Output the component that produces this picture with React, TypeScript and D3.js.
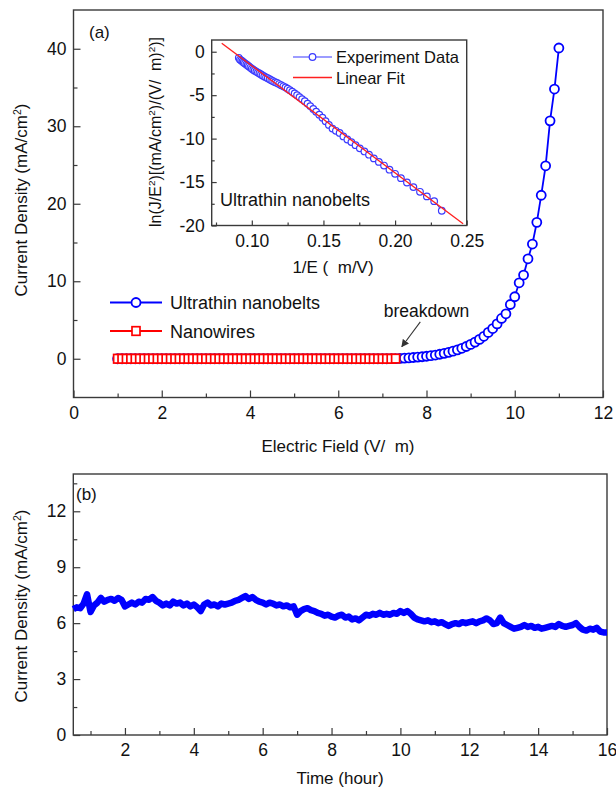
import React, { useEffect, useRef } from "react";
import * as d3 from "d3";

// ---- panel (a): current density vs electric field ----
const nanobeltField = [
  1.0, 1.1, 1.2, 1.3, 1.4, 1.5, 1.6, 1.7, 1.8, 1.9,
  2.0, 2.1, 2.2, 2.3, 2.4, 2.5, 2.6, 2.7, 2.8, 2.9,
  3.0, 3.1, 3.2, 3.3, 3.4, 3.5, 3.6, 3.7, 3.8, 3.9,
  4.0, 4.1, 4.2, 4.3, 4.4, 4.5, 4.6, 4.7, 4.8, 4.9,
  5.0, 5.1, 5.2, 5.3, 5.4, 5.5, 5.6, 5.7, 5.8, 5.9,
  6.0, 6.1, 6.2, 6.3, 6.4, 6.5, 6.6, 6.7, 6.8, 6.9,
  7.0, 7.1, 7.2, 7.3, 7.4, 7.5, 7.6, 7.7, 7.8, 7.9,
  8.0, 8.1, 8.2, 8.3, 8.4, 8.5, 8.6, 8.7, 8.8, 8.9,
  9.0, 9.1, 9.2, 9.3, 9.4, 9.5, 9.6, 9.7, 9.8, 9.9,
  10.0, 10.1, 10.2, 10.3, 10.4, 10.5, 10.6, 10.7, 10.8, 10.9,
  11.0,
];
const nanobeltDensity = [
  0, 0, 0, 0, 0, 0, 0, 0, 0, 0,
  0, 0, 0, 0, 0, 0, 0, 0, 0, 0,
  0, 0, 0, 0, 0, 0, 0, 0, 0, 0,
  0, 0, 0, 0, 0, 0, 0, 0, 0, 0,
  0, 0, 0, 0, 0, 0, 0, 0, 0, 0,
  0, 0, 0, 0, 0, 0, 0, 0, 0, 0,
  0, 0, 0.01, 0.02, 0.05, 0.08, 0.12, 0.16, 0.21, 0.26,
  0.32, 0.4, 0.48, 0.58, 0.7, 0.83, 0.98, 1.15, 1.35, 1.58,
  1.85, 2.15, 2.5, 2.9, 3.4, 3.9, 4.5, 5.2, 5.8, 7.0,
  8.0, 9.8, 10.8, 12.9, 14.8, 17.6, 21.1, 24.9, 30.7, 34.8,
  40.1,
];
const nanowireField = [
  1.0, 1.1, 1.2, 1.3, 1.4, 1.5, 1.6, 1.7, 1.8, 1.9,
  2.0, 2.1, 2.2, 2.3, 2.4, 2.5, 2.6, 2.7, 2.8, 2.9,
  3.0, 3.1, 3.2, 3.3, 3.4, 3.5, 3.6, 3.7, 3.8, 3.9,
  4.0, 4.1, 4.2, 4.3, 4.4, 4.5, 4.6, 4.7, 4.8, 4.9,
  5.0, 5.1, 5.2, 5.3, 5.4, 5.5, 5.6, 5.7, 5.8, 5.9,
  6.0, 6.1, 6.2, 6.3, 6.4, 6.5, 6.6, 6.7, 6.8, 6.9,
  7.0, 7.1, 7.2, 7.3,
];
const nanowireDensity = [
  0, 0, 0, 0, 0, 0, 0, 0, 0, 0,
  0, 0, 0, 0, 0, 0, 0, 0, 0, 0,
  0, 0, 0, 0, 0, 0, 0, 0, 0, 0,
  0, 0, 0, 0, 0, 0, 0, 0, 0, 0,
  0, 0, 0, 0, 0, 0, 0, 0, 0, 0,
  0, 0, 0, 0, 0, 0, 0, 0, 0, 0,
  0, 0, 0, 0.02,
];
const fieldMajor = [0, 2, 4, 6, 8, 10, 12];
const fieldMinor = [1, 3, 5, 7, 9, 11];
const densityMajor = [0, 10, 20, 30, 40];
const densityMinor = [5, 15, 25, 35];
// breakdown arrow, data coords
const breakdownText = { field: 8.0, density: 6.2 };
const breakdownArrow = { fromField: 7.86, fromDensity: 4.75, toField: 7.44, toDensity: 1.55 };

// ---- inset: Fowler-Nordheim plot ----
const inverseField = [
  0.0909, 0.0917, 0.0926, 0.0935, 0.0943, 0.0952, 0.0962, 0.0971, 0.098, 0.099,
  0.1, 0.101, 0.102, 0.1031, 0.1042, 0.1053, 0.1064, 0.1075, 0.1087, 0.1099,
  0.1111, 0.1124, 0.1136, 0.1149, 0.1163, 0.1176, 0.119, 0.1205, 0.122, 0.1235,
  0.125, 0.1266, 0.1282, 0.1299, 0.1316, 0.1333, 0.1351, 0.137, 0.1389, 0.1408,
  0.1429, 0.1449, 0.1471, 0.1493, 0.1515, 0.1538, 0.1563, 0.1587, 0.1613, 0.1639,
  0.1667, 0.1695, 0.1724, 0.1754, 0.1786, 0.1818, 0.1852, 0.1887, 0.1923, 0.1961,
  0.2, 0.2041, 0.2083, 0.2128, 0.2174, 0.2222, 0.2273, 0.2326,
];
const fnValues = [
  -0.7, -0.9, -1.0, -1.12, -1.23, -1.35, -1.46, -1.58, -1.7, -1.82,
  -1.95, -2.06, -2.18, -2.3, -2.4, -2.5, -2.62, -2.73, -2.85, -2.95,
  -3.05, -3.17, -3.28, -3.4, -3.5, -3.6, -3.72, -3.85, -3.98, -4.1,
  -4.25, -4.42, -4.6, -4.8, -5.0, -5.22, -5.45, -5.7, -5.97, -6.26,
  -6.58, -6.9, -7.25, -7.6, -8.0, -8.42, -8.85, -9.1, -9.35, -9.75,
  -10.1, -10.4, -10.75, -11.12, -11.48, -11.85, -12.28, -12.68, -13.1, -13.58,
  -14.05, -14.55, -15.05, -15.58, -16.12, -16.65, -17.2, -18.3,
];
const fitInverseField = [0.079, 0.2475];
const fitValues = [0.97, -19.8];
const invMajor = [0.1, 0.15, 0.2, 0.25];
const invMinor = [0.075, 0.125, 0.175, 0.225];
const fnMajor = [-20, -15, -10, -5, 0];
const fnMinor = [-17.5, -12.5, -7.5, -2.5];

// ---- panel (b): stability over time ----
const stabilityTime = [
  0.5, 0.6, 0.7, 0.8, 0.9, 1.0, 1.1, 1.2, 1.3, 1.4,
  1.5, 1.6, 1.7, 1.8, 1.9, 2.0, 2.1, 2.2, 2.3, 2.4,
  2.5, 2.6, 2.7, 2.8, 2.9, 3.0, 3.1, 3.2, 3.3, 3.4,
  3.5, 3.6, 3.7, 3.8, 3.9, 4.0, 4.1, 4.2, 4.3, 4.4,
  4.5, 4.6, 4.7, 4.8, 4.9, 5.0, 5.1, 5.2, 5.3, 5.4,
  5.5, 5.6, 5.7, 5.8, 5.9, 6.0, 6.1, 6.2, 6.3, 6.4,
  6.5, 6.6, 6.7, 6.8, 6.9, 7.0, 7.1, 7.2, 7.3, 7.4,
  7.5, 7.6, 7.7, 7.8, 7.9, 8.0, 8.1, 8.2, 8.3, 8.4,
  8.5, 8.6, 8.7, 8.8, 8.9, 9.0, 9.1, 9.2, 9.3, 9.4,
  9.5, 9.6, 9.7, 9.8, 9.9, 10.0, 10.1, 10.2, 10.3, 10.4,
  10.5, 10.6, 10.7, 10.8, 10.9, 11.0, 11.1, 11.2, 11.3, 11.4,
  11.5, 11.6, 11.7, 11.8, 11.9, 12.0, 12.1, 12.2, 12.3, 12.4,
  12.5, 12.6, 12.7, 12.8, 12.9, 13.0, 13.1, 13.2, 13.3, 13.4,
  13.5, 13.6, 13.7, 13.8, 13.9, 14.0, 14.1, 14.2, 14.3, 14.4,
  14.5, 14.6, 14.7, 14.8, 14.9, 15.0, 15.1, 15.2, 15.3, 15.4,
  15.5, 15.6, 15.7, 15.8, 15.9, 16.0,
];
const stabilityDensity = [
  6.75, 6.85, 6.8, 7.05, 7.55, 6.6, 6.95, 7.1, 7.35, 7.15,
  7.25, 7.3, 7.2, 7.35, 7.25, 6.9, 7.0, 7.1, 7.0, 7.15,
  7.1, 7.3, 7.25, 7.4, 7.2, 7.1, 6.95, 7.05, 6.95, 7.15,
  7.05, 7.1, 6.95, 7.05, 6.9, 7.0, 6.85, 6.65, 7.0, 7.1,
  6.95, 7.0, 6.9, 7.05, 7.0, 7.05, 7.1, 7.2, 7.25, 7.35,
  7.45, 7.3, 7.4, 7.25, 7.15, 7.1, 7.0, 7.1, 7.05, 6.95,
  7.0, 6.9, 6.95, 6.85, 6.9, 6.45, 6.65, 6.75, 6.8, 6.7,
  6.65, 6.55, 6.5, 6.4, 6.45, 6.35, 6.3, 6.4, 6.45, 6.3,
  6.35, 6.2, 6.25, 6.15, 6.3, 6.45, 6.4, 6.5, 6.45, 6.55,
  6.45, 6.5, 6.45, 6.55, 6.5, 6.65, 6.55, 6.65, 6.5, 6.3,
  6.2, 6.15, 6.1, 6.15, 6.05, 6.1, 6.0, 6.05, 5.95, 5.85,
  5.95, 6.0, 5.95, 6.05, 6.0, 6.05, 6.1, 6.0, 6.1, 6.15,
  6.25, 6.15, 5.95, 6.0, 6.3, 6.0, 5.9, 5.8, 5.7, 5.75,
  5.8, 5.9, 5.8, 5.85, 5.75, 5.8, 5.7, 5.75, 5.8, 5.85,
  5.8, 5.95, 5.85, 5.8, 5.85, 5.9, 6.0, 5.8, 5.65, 5.6,
  5.7, 5.65, 5.75, 5.55, 5.5, 5.5,
];
const timeMajor = [2, 4, 6, 8, 10, 12, 14, 16];
const timeMinor = [1, 3, 5, 7, 9, 11, 13, 15];
const stabMajor = [0, 3, 6, 9, 12];
const stabMinor = [1.5, 4.5, 7.5, 10.5, 13.5];

const FONT = "'Liberation Sans', Arial, Helvetica, sans-serif";
const INK = "#3a3a3a";

// frame + inward ticks on left and bottom
function drawFrame(g, x, y, o) {
  const [x0, x1] = x.range();
  const [y0, y1] = y.range();
  g.append("rect")
    .attr("x", x0).attr("y", y1)
    .attr("width", x1 - x0).attr("height", y0 - y1)
    .attr("fill", o.fill || "none")
    .attr("stroke", INK).attr("stroke-width", 1.4);

  const tidy = (sel) => {
    sel.select(".domain").remove();
    sel.selectAll("line").attr("stroke", INK).attr("stroke-width", 1.2);
    sel.selectAll("text").attr("fill", "#111").attr("font-size", o.fontSize).attr("font-family", FONT);
  };
  g.append("g").attr("transform", `translate(0,${y0})`)
    .call(d3.axisBottom(x).tickValues(o.xMajor).tickSize(-o.major).tickPadding(o.xPad).tickFormat(o.xFormat))
    .call(tidy);
  g.append("g").attr("transform", `translate(0,${y0})`)
    .call(d3.axisBottom(x).tickValues(o.xMinor).tickSize(-o.minor).tickFormat(() => ""))
    .call(tidy);
  g.append("g").attr("transform", `translate(${x0},0)`)
    .call(d3.axisLeft(y).tickValues(o.yMajor).tickSize(-o.major).tickPadding(o.yPad).tickFormat(o.yFormat))
    .call(tidy);
  g.append("g").attr("transform", `translate(${x0},0)`)
    .call(d3.axisLeft(y).tickValues(o.yMinor).tickSize(-o.minor).tickFormat(() => ""))
    .call(tidy);
}

// rotated title with superscripts: parts = [text, sup, text, ...]
function rotatedTitle(g, cx, cy, parts, size) {
  const t = g.append("text")
    .attr("transform", `translate(${cx},${cy}) rotate(-90)`)
    .attr("text-anchor", "middle")
    .attr("font-family", FONT)
    .attr("font-size", size)
    .attr("fill", "#111")
    .style("white-space", "pre");
  parts.forEach((p, i) => {
    if (i % 2 === 0) t.append("tspan").attr("dy", i === 0 ? 0 : size * 0.38).text(p);
    else t.append("tspan").attr("dy", -size * 0.38).attr("font-size", size * 0.62).text(p);
  });
}

const App = () => {
  const ref = useRef(null);

  useEffect(() => {
    const svg = d3.select(ref.current);
    svg.selectAll("*").remove();

    svg.append("defs").append("marker")
      .attr("id", "arrowHead")
      .attr("viewBox", "0 0 10 10")
      .attr("refX", 9).attr("refY", 5)
      .attr("markerWidth", 7).attr("markerHeight", 7)
      .attr("orient", "auto")
      .append("path").attr("d", "M0,0 L10,5 L0,10 z").attr("fill", "#333");

    const plain = (d) => String(d);

    // ===== panel (a) =====
    const gA = svg.append("g");
    const x = d3.scaleLinear().domain([0, 12]).range([73.5, 603]);
    const y = d3.scaleLinear().domain([-5, 45]).range([397.5, 10]);
    drawFrame(gA, x, y, {
      xMajor: fieldMajor, xMinor: fieldMinor, yMajor: densityMajor, yMinor: densityMinor,
      major: 7, minor: 4, xPad: 9, yPad: 7, fontSize: 17.5, xFormat: plain, yFormat: plain,
    });

    const belts = nanobeltField.map((e, i) => ({ x: e, y: nanobeltDensity[i] }));
    const wires = nanowireField.map((e, i) => ({ x: e, y: nanowireDensity[i] }));
    const line = d3.line().x((d) => x(d.x)).y((d) => y(d.y));

    gA.append("path").attr("d", line(belts)).attr("fill", "none").attr("stroke", "#0000ff").attr("stroke-width", 1.8);
    gA.selectAll("circle.belt").data(belts).enter().append("circle")
      .attr("class", "belt")
      .attr("cx", (d) => x(d.x)).attr("cy", (d) => y(d.y)).attr("r", 4.5)
      .attr("fill", "#fff").attr("stroke", "#0000ff").attr("stroke-width", 1.8);

    gA.append("path").attr("d", line(wires)).attr("fill", "none").attr("stroke", "#ff0000").attr("stroke-width", 1.5);
    gA.selectAll("rect.wire").data(wires).enter().append("rect")
      .attr("class", "wire")
      .attr("x", (d) => x(d.x) - 4).attr("y", (d) => y(d.y) - 4.3)
      .attr("width", 8).attr("height", 8.6)
      .attr("fill", "#fff").attr("stroke", "#ff0000").attr("stroke-width", 1.7);

    // legend (a)
    const legA = gA.append("g").attr("font-family", FONT).attr("font-size", 18).attr("fill", "#111");
    [
      { label: "Ultrathin nanobelts", color: "#0000ff", shape: "circle", yy: 302.5 },
      { label: "Nanowires", color: "#ff0000", shape: "square", yy: 331 },
    ].forEach((it) => {
      legA.append("line").attr("x1", 110).attr("x2", 162).attr("y1", it.yy).attr("y2", it.yy)
        .attr("stroke", it.color).attr("stroke-width", 2);
      if (it.shape === "circle") {
        legA.append("circle").attr("cx", 136).attr("cy", it.yy).attr("r", 4.5)
          .attr("fill", "#fff").attr("stroke", it.color).attr("stroke-width", 1.8);
      } else {
        legA.append("rect").attr("x", 132).attr("y", it.yy - 4.3).attr("width", 8).attr("height", 8.6)
          .attr("fill", "#fff").attr("stroke", it.color).attr("stroke-width", 1.7);
      }
      legA.append("text").attr("x", 170).attr("y", it.yy + 6.5).text(it.label);
    });

    // breakdown annotation
    gA.append("text")
      .attr("x", x(breakdownText.field)).attr("y", y(breakdownText.density) + 6)
      .attr("text-anchor", "middle").attr("font-family", FONT).attr("font-size", 17.5).attr("fill", "#111")
      .text("breakdown");
    gA.append("line")
      .attr("x1", x(breakdownArrow.fromField)).attr("y1", y(breakdownArrow.fromDensity))
      .attr("x2", x(breakdownArrow.toField)).attr("y2", y(breakdownArrow.toDensity))
      .attr("stroke", "#333").attr("stroke-width", 1.1).attr("marker-end", "url(#arrowHead)");

    gA.append("text").attr("x", 89).attr("y", 38).attr("font-family", FONT).attr("font-size", 17).attr("fill", "#111").text("(a)");
    gA.append("text").attr("x", 338).attr("y", 452).attr("text-anchor", "middle").style("white-space", "pre")
      .attr("font-family", FONT).attr("font-size", 17).attr("fill", "#111").text("Electric Field (V/  m)");
    rotatedTitle(gA, 27, 200, ["Current Density (mA/cm", "2", ")"], 17);

    // ===== inset =====
    const gI = svg.append("g");
    const xi = d3.scaleLinear().domain([0.072, 0.25]).range([211.7, 466.7]);
    const yi = d3.scaleLinear().domain([-20, 1.35]).range([225.5, 40]);
    drawFrame(gI, xi, yi, {
      fill: "#fff",
      xMajor: invMajor, xMinor: invMinor, yMajor: fnMajor, yMinor: fnMinor,
      major: 5, minor: 3, xPad: 9, yPad: 7, fontSize: 17.5, xFormat: d3.format(".2f"), yFormat: plain,
    });
    const fn = inverseField.map((v, i) => ({ x: v, y: fnValues[i] }));
    const fit = fitInverseField.map((v, i) => ({ x: v, y: fitValues[i] }));
    const lineI = d3.line().x((d) => xi(d.x)).y((d) => yi(d.y));
    gI.append("path").attr("d", lineI(fn)).attr("fill", "none").attr("stroke", "#3a3aff").attr("stroke-width", 1);
    gI.selectAll("circle.fn").data(fn).enter().append("circle")
      .attr("class", "fn")
      .attr("cx", (d) => xi(d.x)).attr("cy", (d) => yi(d.y)).attr("r", 3.3)
      .attr("fill", "#fff").attr("stroke", "#3a3aff").attr("stroke-width", 1.2);
    gI.append("path").attr("d", lineI(fit)).attr("fill", "none").attr("stroke", "#ff2020").attr("stroke-width", 1.3);

    const legI = gI.append("g").attr("font-family", FONT).attr("font-size", 16.5).attr("fill", "#111");
    legI.append("line").attr("x1", 293).attr("x2", 332).attr("y1", 57).attr("y2", 57).attr("stroke", "#3a3aff").attr("stroke-width", 1.2);
    legI.append("circle").attr("cx", 312.5).attr("cy", 57).attr("r", 3.3).attr("fill", "#fff").attr("stroke", "#3a3aff").attr("stroke-width", 1.2);
    legI.append("text").attr("x", 336).attr("y", 63).text("Experiment Data");
    legI.append("line").attr("x1", 293).attr("x2", 332).attr("y1", 77.5).attr("y2", 77.5).attr("stroke", "#ff2020").attr("stroke-width", 1.3);
    legI.append("text").attr("x", 336).attr("y", 83.5).text("Linear Fit");

    gI.append("text").attr("x", 220).attr("y", 206).attr("font-family", FONT).attr("font-size", 18).attr("fill", "#111").text("Ultrathin nanobelts");
    gI.append("text").attr("x", 333).attr("y", 273).attr("text-anchor", "middle").style("white-space", "pre")
      .attr("font-family", FONT).attr("font-size", 17).attr("fill", "#111").text("1/E (  m/V)");
    rotatedTitle(gI, 161, 132, ["ln(J/E", "2", ")[(mA/cm", "2", ")/(V/  m)", "2", ")]"], 16);

    // ===== panel (b) =====
    const gB = svg.append("g");
    const xb = d3.scaleLinear().domain([0.5, 16]).range([73.3, 607]);
    const yb = d3.scaleLinear().domain([0, 14]).range([735, 474]);
    drawFrame(gB, xb, yb, {
      xMajor: timeMajor, xMinor: timeMinor, yMajor: stabMajor, yMinor: stabMinor,
      major: 7, minor: 4, xPad: 9, yPad: 7, fontSize: 17.5, xFormat: plain, yFormat: plain,
    });
    const stab = stabilityTime.map((t, i) => ({ x: t, y: stabilityDensity[i] }));
    const lineB = d3.line().x((d) => xb(d.x)).y((d) => yb(d.y));
    gB.append("path").attr("d", lineB(stab)).attr("fill", "none").attr("stroke", "#0000ff")
      .attr("stroke-width", 6.5).attr("stroke-linejoin", "round");

    gB.append("text").attr("x", 76).attr("y", 500).attr("font-family", FONT).attr("font-size", 17).attr("fill", "#111").text("(b)");
    gB.append("text").attr("x", 340).attr("y", 784).attr("text-anchor", "middle")
      .attr("font-family", FONT).attr("font-size", 17).attr("fill", "#111").text("Time (hour)");
    rotatedTitle(gB, 27, 606, ["Current Density (mA/cm", "2", ")"], 17);
  }, []);

  return (
    <svg
      ref={ref}
      width={616}
      height={789}
      style={{ position: "absolute", left: 0, top: 0, background: "#fff" }}
    />
  );
};

export default App;
